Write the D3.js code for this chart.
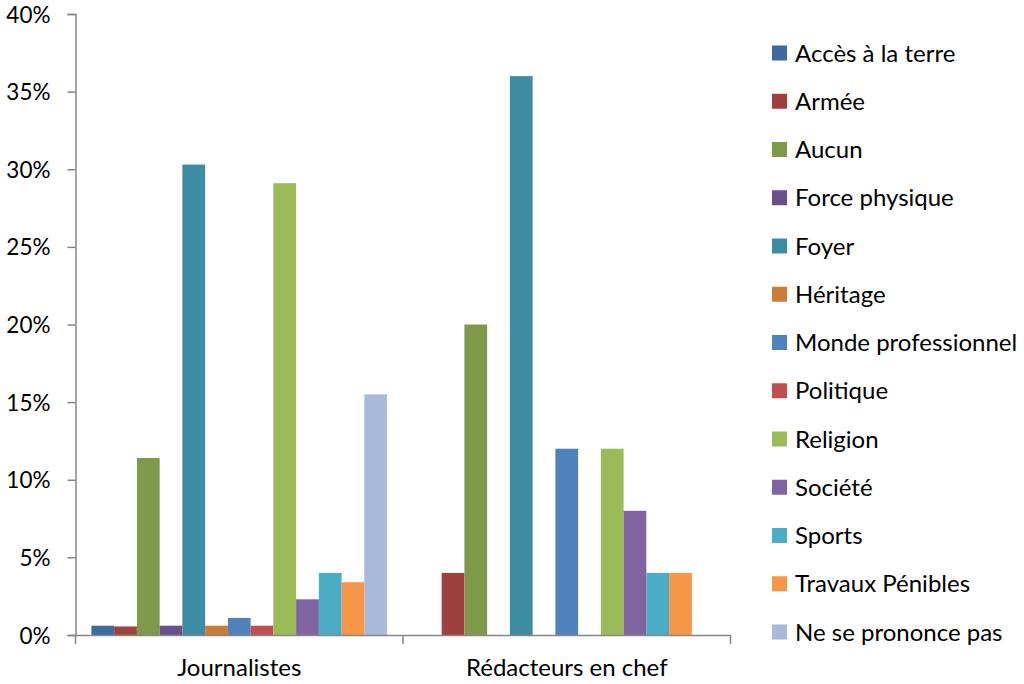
<!DOCTYPE html>
<html><head><meta charset="utf-8">
<script src="https://cdn.jsdelivr.net/npm/d3@7"></script>
<style>body{margin:0;background:#fff}svg{display:block}</style>
</head><body>
<svg id="c" width="1024" height="684"></svg>
<script>
const categories = ["Journalistes", "Rédacteurs en chef"];
const seriesNames = ["Accès à la terre","Armée","Aucun","Force physique","Foyer","Héritage","Monde professionnel","Politique","Religion","Société","Sports","Travaux Pénibles","Ne se prononce pas"];
const journalistes = [0.6,0.55,11.4,0.6,30.3,0.6,1.1,0.6,29.1,2.3,4.0,3.4,15.5];
const redacteurs = [0,4,20,0,36,0,12,0,12,8,4,4,0];
const colors = ["#3E6A9E","#A0403E","#7E9A48","#6A4F8A","#3C8DA3","#CC7B38","#4F81BD","#C0504D","#9BBB59","#8064A2","#4BACC6","#F79646","#A9B9D9"];
const yTicks = [0,5,10,15,20,25,30,35,40];

(function(){
const svg = d3.select("#c");
const font = "Lato, 'Open Sans', sans-serif";
const mLeft = 75.5, mRight = 730.5, mTop = 14, mBottom = 635;
const x0 = d3.scaleBand().domain(categories).range([mLeft, mRight]).paddingInner(0).paddingOuter(0);
// Excel-style gap: 13 bars + gap of 1.4 bar widths split evenly
const bw = x0.bandwidth() / 14.4;
const xs = d3.scaleBand().domain(seriesNames).range([0.7*bw, 0.7*bw + 13*bw]);
const y = d3.scaleLinear().domain([0,40]).range([mBottom, mTop]);

const data = [journalistes, redacteurs];
categories.forEach((c, ci) => {
  svg.append("g").selectAll("rect").data(data[ci]).join("rect")
    .attr("x", (d,i) => x0(c) + xs(seriesNames[i]))
    .attr("width", xs.bandwidth())
    .attr("y", d => y(d))
    .attr("height", d => mBottom - y(d))
    .attr("fill", (d,i) => colors[i]);
});

// y axis
const ya = svg.append("g").attr("transform", `translate(${mLeft},0)`)
  .call(d3.axisLeft(y).tickValues(yTicks).tickSize(8).tickFormat(d => d + "%"));
ya.select(".domain").attr("stroke", "#868686").attr("stroke-width", 1.5);
ya.selectAll(".tick line").attr("stroke", "#868686").attr("stroke-width", 1.5);
ya.selectAll(".tick text").attr("font-family", font).attr("font-size", 22.5).attr("fill", "#000").attr("x", -25).attr("dy", "0.36em");

// x axis
const xa = svg.append("g").attr("transform", `translate(0,${mBottom})`)
  .call(d3.axisBottom(x0).tickSize(0).tickPadding(24));
xa.select(".domain").attr("stroke", "#868686").attr("stroke-width", 1.5);
xa.selectAll(".tick text").attr("font-family", font).attr("font-size", 24).attr("fill", "#000");
const bounds = [mLeft, x0(categories[1]), mRight];
svg.append("g").selectAll("line").data(bounds).join("line")
  .attr("x1", d => d).attr("x2", d => d).attr("y1", mBottom).attr("y2", mBottom + 9)
  .attr("stroke", "#868686").attr("stroke-width", 1.5);

// legend
const lg = svg.append("g");
const ly = d3.scalePoint().domain(seriesNames).range([53, 632]);
seriesNames.forEach((s, i) => {
  lg.append("rect").attr("x", 772).attr("y", ly(s) - 7.5).attr("width", 15).attr("height", 15).attr("fill", colors[i]);
  lg.append("text").attr("x", 795).attr("y", ly(s)).attr("dy", "0.36em")
    .attr("font-family", font).attr("font-size", 24).attr("fill", "#000").text(s);
});
})();
</script>
</body></html>
